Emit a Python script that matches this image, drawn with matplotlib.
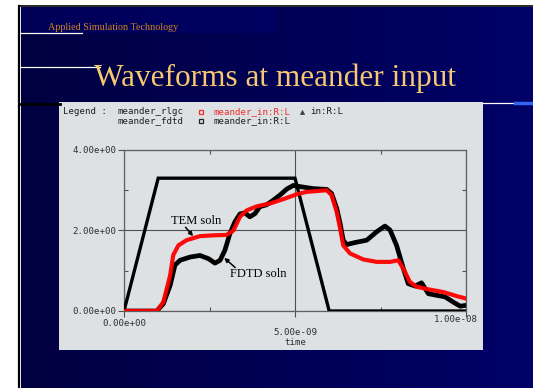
import numpy as np
import matplotlib
matplotlib.use("Agg")
import matplotlib.pyplot as plt
from matplotlib.patches import Rectangle
from matplotlib.lines import Line2D

# time in ns, voltage in V
t_in = [0.0, 1.0, 5.0, 6.0, 10.0]
v_in = [0.0, 3.3, 3.3, 0.0, 0.0]

t_tem = [0.0, 0.96, 1.15, 1.35, 1.44, 1.59, 1.83, 2.22, 2.61, 3.0, 3.2, 3.39,
         3.59, 3.88, 4.27, 4.66, 5.05, 5.34, 5.93, 6.07, 6.22, 6.32, 6.41,
         6.61, 7.0, 7.39, 7.78, 8.02, 8.17, 8.36, 8.56, 8.95, 9.34, 9.73, 10.0]
v_tem = [0.0, 0.0, 0.22, 0.89, 1.39, 1.63, 1.76, 1.86, 1.88, 1.89, 2.0, 2.34,
         2.5, 2.6, 2.67, 2.78, 2.9, 2.96, 3.0, 2.88, 2.46, 2.05, 1.63,
         1.43, 1.28, 1.22, 1.22, 1.26, 1.05, 0.72, 0.6, 0.53, 0.47, 0.37, 0.31]

t_fdtd = [0.0, 0.96, 1.15, 1.35, 1.49, 1.64, 1.93, 2.22, 2.47, 2.66, 2.81,
          2.95, 3.1, 3.24, 3.39, 3.53, 3.68, 3.83, 3.97, 4.17, 4.36, 4.56,
          4.76, 4.95, 5.15, 5.54, 5.93, 6.07, 6.22, 6.32, 6.41, 6.51, 6.75,
          7.1, 7.39, 7.63, 7.78, 7.97, 8.17, 8.31, 8.51, 8.7, 8.9, 9.14,
          9.39, 9.63, 9.83, 10.0]
v_fdtd = [0.0, 0.0, 0.18, 0.64, 1.14, 1.26, 1.34, 1.38, 1.30, 1.19, 1.26,
          1.51, 1.93, 2.21, 2.41, 2.44, 2.34, 2.42, 2.59, 2.64, 2.75, 2.88,
          3.03, 3.12, 3.09, 3.04, 3.02, 2.92, 2.55, 2.17, 1.76, 1.65, 1.70,
          1.76, 1.97, 2.11, 2.01, 1.63, 1.05, 0.68, 0.62, 0.70, 0.43, 0.39,
          0.35, 0.22, 0.12, 0.14]

x_ticks = [0, 5e-9, 1e-8]
x_labels = ["0.00e+00", "5.00e-09", "1.00e-08"]
y_ticks = [0, 2, 4]
y_labels = ["0.00e+00", "2.00e+00", "4.00e+00"]

W, H = 533, 388
fig = plt.figure(figsize=(W / 100, H / 100), dpi=100, facecolor="white")

def fx(px):
    return px / W

def fy(py):
    return 1 - py / H

# slide background: navy gradient
bg = fig.add_axes([fx(21), 0, 1 - fx(21), fy(7)], zorder=-2)
grad = np.linspace(0, 1, 256)[None, :]
cmap = matplotlib.colors.LinearSegmentedColormap.from_list("navy", ["#000040", "#000055", "#000068"])
bg.imshow(grad, aspect="auto", cmap=cmap, extent=[0, 1, 0, 1])
bg.add_patch(Rectangle((0, 1 - 26 / 381), (275 - 21) / 512, 26 / 381,
                       color="#000070", alpha=0.5, lw=0))
bg.set_axis_off()

# frame lines
fig.add_artist(Line2D([fx(19), fx(19)], [0, fy(6)], color="black", lw=1.6))
fig.add_artist(Line2D([fx(19), 1], [fy(6), fy(6)], color="black", lw=1.2))
fig.add_artist(Line2D([fx(21), fx(82)], [fy(33), fy(33)], color="white", lw=0.9))
fig.add_artist(Line2D([fx(21), fx(100)], [fy(67), fy(67)], color="white", lw=0.9))
fig.add_artist(Line2D([fx(21), fx(60)], [fy(104), fy(104)], color="black", lw=2))
fig.add_artist(Line2D([fx(483), fx(518)], [fy(103), fy(103)], color="white", lw=0.9))
fig.add_artist(Line2D([fx(515), fx(531)], [fy(103), fy(103)], color="#3565F0", lw=2.5))

fig.text(fx(48), fy(28), "Applied Simulation Technology", family="Liberation Serif",
         fontsize=7.3, color="#D08020", va="center", ha="left")
fig.text(fx(275), fy(78), "Waveforms at meander input", family="Liberation Serif",
         fontsize=22.5, color="#F8C870", va="center", ha="center")

# plot panel
panel = "#DDE1E4"
fig.add_artist(Rectangle((fx(59), fy(350)), fx(483) - fx(59), fy(102) - fy(350),
                         color=panel, lw=0, zorder=-1))

mono = "DejaVu Sans Mono"
fs = 6.6
fig.text(fx(63), fy(112), "Legend :", family=mono, fontsize=fs, color="#202020", va="center")
fig.text(fx(118), fy(112), "meander_rlgc", family=mono, fontsize=fs, color="#202020", va="center")
fig.text(fx(118), fy(121), "meander_fdtd", family=mono, fontsize=fs, color="#202020", va="center")
fig.text(fx(214), fy(112), "meander_in:R:L", family=mono, fontsize=fs, color="#F03030", va="center")
fig.text(fx(214), fy(121), "meander_in:R:L", family=mono, fontsize=fs, color="#202020", va="center")
fig.text(fx(310), fy(112), "in:R:L", family=mono, fontsize=fs, color="#202020", va="center")
fig.add_artist(Line2D([fx(201)], [fy(112)], marker="s", ms=2.8, mfc="none", mec="#F03030", mew=0.9))
fig.add_artist(Line2D([fx(201)], [fy(121)], marker="s", ms=2.8, mfc="none", mec="#202020", mew=0.9))
fig.add_artist(Line2D([fx(302)], [fy(112)], marker="^", ms=3, mfc="#404040", mec="#404040", mew=0.5))

ax = fig.add_axes([fx(124), fy(311), fx(466) - fx(124), fy(150) - fy(311)], zorder=1)
ax.set_facecolor(panel)

ns = 1e-9
ax.plot(np.array(t_in) * ns, v_in, color="black", lw=2.4, solid_joinstyle="miter", zorder=3)
ax.plot(np.array(t_fdtd) * ns, v_fdtd, color="black", lw=3.4, solid_joinstyle="round",
        solid_capstyle="round", zorder=3)
ax.plot(np.array(t_tem) * ns, v_tem, color="#FF0000", lw=3.0, solid_joinstyle="round",
        zorder=4, alpha=0.95)

ax.set_xlim(0, 1e-8)
ax.set_ylim(0, 4)
ax.set_xticks(x_ticks)
ax.set_xticklabels(x_labels[:2] + [""])
ax.set_xticks([2.5e-9, 7.5e-9], minor=True)
ax.set_yticks(y_ticks)
ax.set_yticklabels(y_labels)
ax.set_yticks([1, 3], minor=True)
ax.tick_params(which="major", direction="out", length=4, width=0.8, color="#505050",
               labelsize=fs, labelcolor="#303030", pad=1.5)
ax.tick_params(which="minor", direction="in", length=3, width=0.8, color="#505050",
               top=True, right=True)
for lab in ax.get_xticklabels() + ax.get_yticklabels():
    lab.set_family(mono)
ax.xaxis.get_major_ticks()[1].set_pad(8)
# last time label sits left of its tick, inside the panel
ax.text(1.035e-8, -0.025, x_labels[2], transform=ax.get_xaxis_transform(), ha="right",
        va="top", family=mono, fontsize=fs, color="#303030", clip_on=False)
ax.grid(True, which="major", color="#505050", lw=0.8)
for s in ax.spines.values():
    s.set_color("#606060")
    s.set_linewidth(0.9)
ax.set_xlabel("time", family=mono, fontsize=fs, color="#303030")
ax.xaxis.set_label_coords(0.5, -0.165)

serif = "Liberation Serif"
ax.text(2.11 * ns, 2.23, "TEM soln", family=serif, fontsize=9, ha="center", va="center", zorder=5)
ax.annotate("", xy=(2.02 * ns, 1.86), xytext=(1.80 * ns, 2.08),
            arrowprops=dict(arrowstyle="-|>", color="black", lw=1.1, mutation_scale=6,
                            shrinkA=0, shrinkB=0), zorder=5)
ax.text(3.92 * ns, 0.91, "FDTD soln", family=serif, fontsize=9, ha="center", va="center", zorder=5)
ax.annotate("", xy=(2.93 * ns, 1.32), xytext=(3.25 * ns, 1.08),
            arrowprops=dict(arrowstyle="-|>", color="black", lw=1.1, mutation_scale=6,
                            shrinkA=0, shrinkB=0), zorder=5)

fig.savefig("out.png", dpi=100, facecolor=fig.get_facecolor())
